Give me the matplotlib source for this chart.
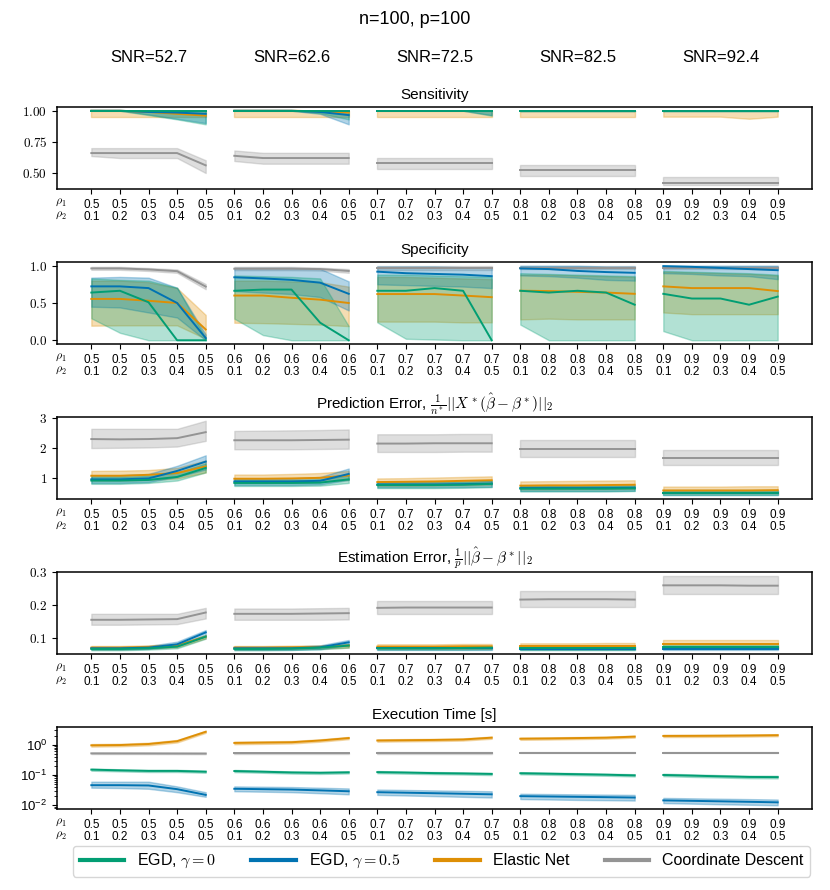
import numpy as np
import matplotlib
matplotlib.use("Agg")
import matplotlib.pyplot as plt
from matplotlib.lines import Line2D
from matplotlib.ticker import FuncFormatter

plt.rcParams["font.family"] = ["Liberation Sans", "DejaVu Sans"]
plt.rcParams["mathtext.fontset"] = "cm"

snr_labels = ["52.7", "62.6", "72.5", "82.5", "92.4"]
rho1 = ["0.5"] * 5 + ["0.6"] * 5 + ["0.7"] * 5 + ["0.8"] * 5 + ["0.9"] * 5
rho2 = ["0.1", "0.2", "0.3", "0.4", "0.5"] * 5

methods = ["EGD, $\\gamma=0$", "EGD, $\\gamma=0.5$", "Elastic Net", "Coordinate Descent"]
colors = ["#029e73", "#0173b2", "#de8f05", "#949494"]

# ---------------- Sensitivity ----------------
sens_egd0_mid = [1, 1, 1, 1, 1, 1, 1, 1, 1, 1, 1, 1, 1, 1, 1, 1, 1, 1, 1, 1, 1, 1, 1, 1, 1]
sens_egd0_lo = [1, 1, 0.965, 0.93, 0.89, 1, 1, 1, 0.98, 0.93, 1, 1, 1, 1, 0.96, 1, 1, 1, 1, 1, 1, 1, 1, 1, 1]
sens_egd0_hi = [1, 1, 1, 1, 1, 1, 1, 1, 1, 1, 1, 1, 1, 1, 1, 1, 1, 1, 1, 1, 1, 1, 1, 1, 1]
sens_egd5_mid = [1, 1, 0.99, 0.985, 0.975, 1, 1, 1, 0.99, 0.965, 1, 1, 1, 1, 1, 1, 1, 1, 1, 1, 1, 1, 1, 1, 1]
sens_egd5_lo = [1, 1, 0.97, 0.935, 0.9, 1, 1, 1, 0.975, 0.89, 1, 1, 1, 1, 0.965, 1, 1, 1, 1, 1, 1, 1, 1, 1, 1]
sens_egd5_hi = [1, 1, 1, 1, 1, 1, 1, 1, 1, 1, 1, 1, 1, 1, 1, 1, 1, 1, 1, 1, 1, 1, 1, 1, 1]
sens_en_mid = [1, 1, 0.99, 0.975, 0.96, 1, 1, 1, 0.995, 0.985, 1, 1, 1, 1, 1, 1, 1, 1, 1, 1, 1, 1, 1, 1, 1]
sens_en_lo = [0.952, 0.952, 0.952, 0.952, 0.952, 0.952, 0.952, 0.952, 0.952, 0.952, 0.952, 0.952, 0.952, 0.952,
              0.952, 0.952, 0.952, 0.952, 0.952, 0.952, 0.952, 0.952, 0.952, 0.935, 0.952]
sens_en_hi = [1, 1, 1, 1, 1, 1, 1, 1, 1, 1, 1, 1, 1, 1, 1, 1, 1, 1, 1, 1, 1, 1, 1, 1, 1]
sens_cd_mid = [0.658, 0.658, 0.658, 0.658, 0.559, 0.636, 0.618, 0.618, 0.618, 0.618, 0.578, 0.578, 0.578, 0.578,
               0.578, 0.519, 0.519, 0.519, 0.519, 0.519, 0.42, 0.42, 0.42, 0.42, 0.42]
sens_cd_lo = [0.634, 0.618, 0.618, 0.618, 0.497, 0.594, 0.572, 0.572, 0.572, 0.572, 0.532, 0.532, 0.532, 0.532,
              0.532, 0.473, 0.473, 0.473, 0.473, 0.473, 0.398, 0.398, 0.398, 0.398, 0.398]
sens_cd_hi = [0.698, 0.698, 0.698, 0.698, 0.6, 0.679, 0.66, 0.66, 0.66, 0.66, 0.62, 0.62, 0.62, 0.62,
              0.62, 0.561, 0.561, 0.561, 0.561, 0.561, 0.463, 0.463, 0.463, 0.463, 0.463]

# ---------------- Specificity ----------------
spec_egd0_mid = [0.64, 0.664, 0.51, 0.0, 0.0, 0.664, 0.68, 0.68, 0.236, 0.0, 0.664, 0.664, 0.7, 0.664, 0.0,
                 0.664, 0.64, 0.664, 0.64, 0.477, 0.623, 0.56, 0.56, 0.477, 0.586]
spec_egd0_lo = [0.295, 0.1, 0.0, 0.0, 0.0, 0.29, 0.07, 0.0, 0.0, 0.0, 0.24, 0.02, 0.01, 0.0, 0.0,
                0.21, 0.0, 0.0, 0.0, 0.0, 0.123, 0.0, 0.0, 0.0, 0.0]
spec_egd0_hi = [0.83, 0.81, 0.8, 0.705, 0.03, 0.87, 0.86, 0.85, 0.83, 0.19, 0.88, 0.88, 0.87, 0.86, 0.85,
                0.9, 0.89, 0.88, 0.87, 0.86, 0.93, 0.92, 0.91, 0.9, 0.88]
spec_egd5_mid = [0.723, 0.723, 0.7, 0.5, 0.03, 0.845, 0.83, 0.81, 0.773, 0.623, 0.92, 0.9, 0.89, 0.88, 0.86,
                 0.964, 0.955, 0.93, 0.915, 0.905, 0.995, 0.985, 0.97, 0.955, 0.94]
spec_egd5_lo = [0.45, 0.44, 0.373, 0.305, 0.0, 0.66, 0.64, 0.62, 0.58, 0.4, 0.75, 0.74, 0.73, 0.72, 0.7,
                0.87, 0.86, 0.84, 0.81, 0.8, 0.9, 0.89, 0.87, 0.86, 0.82]
spec_egd5_hi = [0.84, 0.85, 0.84, 0.705, 0.077, 0.97, 0.97, 0.97, 0.96, 0.79, 0.99, 0.99, 0.99, 0.98, 0.97,
                1.0, 1.0, 1.0, 0.99, 0.99, 1.0, 1.0, 1.0, 1.0, 1.0]
spec_en_mid = [0.555, 0.555, 0.53, 0.5, 0.145, 0.6, 0.6, 0.57, 0.545, 0.5, 0.62, 0.62, 0.62, 0.6, 0.578,
               0.665, 0.66, 0.65, 0.64, 0.623, 0.723, 0.7, 0.7, 0.7, 0.66]
spec_en_lo = [0.195, 0.2, 0.2, 0.2, 0.02, 0.235, 0.23, 0.22, 0.21, 0.19, 0.25, 0.25, 0.25, 0.24, 0.24,
              0.28, 0.29, 0.28, 0.28, 0.28, 0.373, 0.35, 0.35, 0.35, 0.35]
spec_en_hi = [0.8, 0.8, 0.78, 0.7, 0.34, 0.8, 0.8, 0.79, 0.78, 0.72, 0.85, 0.85, 0.84, 0.83, 0.82,
              0.88, 0.88, 0.87, 0.86, 0.85, 0.92, 0.91, 0.9, 0.89, 0.87]
spec_cd_mid = [0.964, 0.964, 0.95, 0.927, 0.72, 0.96, 0.96, 0.96, 0.955, 0.93, 0.965, 0.965, 0.965, 0.965, 0.965,
               0.968, 0.968, 0.968, 0.968, 0.968, 0.97, 0.97, 0.97, 0.97, 0.97]
spec_cd_lo = [0.945, 0.945, 0.93, 0.905, 0.685, 0.94, 0.94, 0.94, 0.935, 0.905, 0.94, 0.94, 0.94, 0.94, 0.94,
              0.95, 0.95, 0.95, 0.95, 0.95, 0.95, 0.95, 0.95, 0.95, 0.95]
spec_cd_hi = [0.985, 0.985, 0.97, 0.95, 0.755, 0.985, 0.985, 0.985, 0.975, 0.955, 0.99, 0.99, 0.99, 0.99, 0.99,
              0.99, 0.99, 0.99, 0.99, 0.99, 0.99, 0.99, 0.99, 0.99, 0.99]

# ---------------- Prediction error ----------------
pred_egd0_mid = [0.93, 0.93, 0.95, 1.05, 1.35, 0.85, 0.85, 0.85, 0.86, 0.97, 0.78, 0.78, 0.78, 0.79, 0.82,
                 0.66, 0.66, 0.66, 0.66, 0.67, 0.51, 0.51, 0.51, 0.51, 0.51]
pred_egd0_lo = [0.82, 0.82, 0.85, 0.93, 1.2, 0.75, 0.75, 0.75, 0.76, 0.85, 0.68, 0.68, 0.68, 0.69, 0.71,
                0.57, 0.57, 0.57, 0.57, 0.58, 0.44, 0.44, 0.44, 0.44, 0.44]
pred_egd0_hi = [1.05, 1.05, 1.08, 1.2, 1.5, 0.95, 0.95, 0.95, 0.97, 1.1, 0.87, 0.87, 0.87, 0.88, 0.92,
                0.75, 0.75, 0.75, 0.75, 0.76, 0.58, 0.58, 0.58, 0.58, 0.58]
pred_egd5_mid = [0.97, 0.97, 1.0, 1.25, 1.56, 0.9, 0.9, 0.9, 0.92, 1.15, 0.8, 0.8, 0.8, 0.81, 0.83,
                 0.68, 0.68, 0.68, 0.68, 0.69, 0.52, 0.52, 0.52, 0.52, 0.52]
pred_egd5_lo = [0.85, 0.85, 0.88, 1.05, 1.3, 0.78, 0.78, 0.78, 0.8, 0.95, 0.7, 0.7, 0.7, 0.71, 0.72,
                0.58, 0.58, 0.58, 0.58, 0.59, 0.44, 0.44, 0.44, 0.44, 0.44]
pred_egd5_hi = [1.1, 1.1, 1.15, 1.42, 1.77, 1.0, 1.0, 1.0, 1.05, 1.33, 0.9, 0.9, 0.9, 0.91, 0.93,
                0.77, 0.77, 0.77, 0.77, 0.78, 0.6, 0.6, 0.6, 0.6, 0.6]
pred_en_mid = [1.09, 1.09, 1.12, 1.18, 1.4, 0.99, 0.99, 1.0, 1.02, 1.1, 0.88, 0.89, 0.9, 0.92, 0.94,
               0.76, 0.77, 0.77, 0.78, 0.79, 0.6, 0.6, 0.6, 0.6, 0.61]
pred_en_lo = [0.93, 0.93, 0.95, 1.0, 1.2, 0.85, 0.85, 0.86, 0.88, 0.95, 0.75, 0.75, 0.76, 0.77, 0.79,
              0.63, 0.63, 0.64, 0.64, 0.65, 0.5, 0.5, 0.5, 0.5, 0.5]
pred_en_hi = [1.25, 1.26, 1.28, 1.35, 1.6, 1.13, 1.13, 1.15, 1.18, 1.25, 1.0, 1.01, 1.03, 1.05, 1.07,
              0.9, 0.91, 0.92, 0.93, 0.94, 0.73, 0.73, 0.73, 0.74, 0.74]
pred_cd_mid = [2.31, 2.3, 2.31, 2.34, 2.54, 2.27, 2.27, 2.27, 2.28, 2.29, 2.16, 2.16, 2.17, 2.17, 2.17,
               1.99, 1.99, 1.99, 1.99, 1.99, 1.67, 1.67, 1.67, 1.67, 1.67]
pred_cd_lo = [2.01, 2.02, 2.03, 2.06, 2.25, 1.97, 1.97, 1.97, 1.98, 1.99, 1.88, 1.88, 1.88, 1.89, 1.89,
              1.72, 1.72, 1.72, 1.72, 1.72, 1.45, 1.45, 1.45, 1.45, 1.45]
pred_cd_hi = [2.65, 2.65, 2.65, 2.65, 2.92, 2.58, 2.59, 2.6, 2.61, 2.63, 2.47, 2.47, 2.47, 2.48, 2.48,
              2.28, 2.28, 2.28, 2.28, 2.28, 1.93, 1.93, 1.93, 1.93, 1.93]

# ---------------- Estimation error ----------------
est_egd0_mid = [0.068, 0.068, 0.07, 0.075, 0.105, 0.068, 0.068, 0.069, 0.072, 0.078, 0.07, 0.07, 0.07, 0.071, 0.072,
                0.071, 0.071, 0.071, 0.071, 0.071, 0.075, 0.075, 0.075, 0.075, 0.075]
est_egd0_lo = [0.064, 0.064, 0.066, 0.07, 0.099, 0.064, 0.064, 0.065, 0.067, 0.072, 0.066, 0.066, 0.066, 0.066,
               0.067, 0.066, 0.066, 0.066, 0.066, 0.066, 0.07, 0.07, 0.07, 0.07, 0.07]
est_egd0_hi = [0.072, 0.072, 0.074, 0.08, 0.11, 0.072, 0.072, 0.073, 0.076, 0.083, 0.074, 0.074, 0.074, 0.075,
               0.076, 0.076, 0.076, 0.076, 0.076, 0.076, 0.08, 0.08, 0.08, 0.08, 0.08]
est_egd5_mid = [0.07, 0.07, 0.072, 0.082, 0.118, 0.07, 0.07, 0.07, 0.073, 0.088, 0.07, 0.07, 0.07, 0.07, 0.07,
                0.069, 0.069, 0.069, 0.069, 0.069, 0.069, 0.069, 0.069, 0.069, 0.069]
est_egd5_lo = [0.066, 0.066, 0.068, 0.076, 0.108, 0.065, 0.065, 0.065, 0.067, 0.08, 0.066, 0.066, 0.066, 0.066,
               0.066, 0.065, 0.065, 0.065, 0.065, 0.065, 0.065, 0.065, 0.065, 0.065, 0.065]
est_egd5_hi = [0.074, 0.074, 0.077, 0.09, 0.125, 0.075, 0.075, 0.075, 0.079, 0.095, 0.074, 0.074, 0.074, 0.074,
               0.074, 0.073, 0.073, 0.073, 0.073, 0.073, 0.073, 0.073, 0.073, 0.073, 0.073]
est_en_mid = [0.072, 0.072, 0.074, 0.078, 0.105, 0.072, 0.072, 0.073, 0.074, 0.078, 0.075, 0.075, 0.075, 0.076,
              0.076, 0.076, 0.076, 0.076, 0.076, 0.076, 0.082, 0.082, 0.082, 0.082, 0.082]
est_en_lo = [0.067, 0.067, 0.069, 0.073, 0.1, 0.067, 0.067, 0.068, 0.069, 0.072, 0.068, 0.068, 0.068, 0.068,
             0.068, 0.068, 0.068, 0.068, 0.068, 0.068, 0.07, 0.07, 0.07, 0.07, 0.07]
est_en_hi = [0.077, 0.077, 0.079, 0.083, 0.11, 0.077, 0.077, 0.078, 0.079, 0.083, 0.082, 0.082, 0.082, 0.083,
             0.083, 0.085, 0.085, 0.085, 0.086, 0.086, 0.095, 0.095, 0.095, 0.095, 0.095]
est_cd_mid = [0.156, 0.156, 0.157, 0.158, 0.178, 0.174, 0.174, 0.174, 0.175, 0.176, 0.192, 0.193, 0.193, 0.193,
              0.193, 0.217, 0.218, 0.218, 0.218, 0.217, 0.26, 0.26, 0.26, 0.259, 0.259]
est_cd_lo = [0.141, 0.141, 0.142, 0.143, 0.16, 0.156, 0.156, 0.156, 0.156, 0.157, 0.174, 0.174, 0.174, 0.174,
             0.174, 0.196, 0.196, 0.196, 0.196, 0.196, 0.233, 0.233, 0.233, 0.233, 0.233]
est_cd_hi = [0.174, 0.174, 0.174, 0.174, 0.192, 0.19, 0.19, 0.19, 0.191, 0.192, 0.213, 0.213, 0.213, 0.213,
             0.213, 0.242, 0.242, 0.242, 0.242, 0.242, 0.289, 0.289, 0.289, 0.289, 0.289]

# ---------------- Execution time ----------------
time_egd0_mid = [0.15, 0.142, 0.136, 0.136, 0.128, 0.135, 0.128, 0.121, 0.118, 0.122, 0.124, 0.12, 0.115, 0.112,
                 0.108, 0.114, 0.11, 0.106, 0.102, 0.097, 0.1, 0.095, 0.09, 0.086, 0.085]
time_egd0_lo = [0.138, 0.131, 0.125, 0.125, 0.118, 0.124, 0.118, 0.111, 0.108, 0.112, 0.114, 0.11, 0.106, 0.103,
                0.099, 0.105, 0.101, 0.097, 0.094, 0.089, 0.091, 0.086, 0.082, 0.078, 0.077]
time_egd0_hi = [0.163, 0.154, 0.148, 0.148, 0.139, 0.147, 0.139, 0.131, 0.128, 0.133, 0.135, 0.13, 0.125, 0.122,
                0.118, 0.124, 0.12, 0.115, 0.111, 0.106, 0.11, 0.105, 0.099, 0.095, 0.094]
time_egd5_mid = [0.046, 0.046, 0.045, 0.034, 0.022, 0.035, 0.034, 0.033, 0.031, 0.029, 0.027, 0.026, 0.025, 0.024,
                 0.023, 0.02, 0.0195, 0.019, 0.0185, 0.018, 0.0145, 0.014, 0.0135, 0.013, 0.0125]
time_egd5_lo = [0.038, 0.037, 0.035, 0.027, 0.019, 0.029, 0.028, 0.027, 0.025, 0.023, 0.022, 0.021, 0.02, 0.019,
                0.018, 0.016, 0.0155, 0.015, 0.0147, 0.0143, 0.0118, 0.0113, 0.0108, 0.0104, 0.01]
time_egd5_hi = [0.06, 0.06, 0.06, 0.042, 0.027, 0.042, 0.041, 0.04, 0.038, 0.036, 0.033, 0.032, 0.031, 0.03,
                0.029, 0.024, 0.0235, 0.023, 0.0225, 0.022, 0.0175, 0.017, 0.0165, 0.016, 0.0155]
time_en_mid = [0.95, 0.97, 1.05, 1.3, 2.66, 1.14, 1.17, 1.2, 1.37, 1.65, 1.37, 1.4, 1.43, 1.48, 1.7,
               1.57, 1.6, 1.65, 1.7, 1.84, 1.94, 1.95, 1.97, 2.0, 2.05]
time_en_lo = [0.86, 0.88, 0.95, 1.18, 2.45, 1.03, 1.06, 1.09, 1.25, 1.51, 1.25, 1.28, 1.31, 1.36, 1.56,
              1.44, 1.47, 1.52, 1.57, 1.7, 1.78, 1.79, 1.81, 1.84, 1.89]
time_en_hi = [1.05, 1.07, 1.16, 1.43, 2.88, 1.26, 1.29, 1.32, 1.5, 1.8, 1.5, 1.53, 1.56, 1.61, 1.85,
              1.71, 1.74, 1.79, 1.84, 1.99, 2.11, 2.12, 2.14, 2.17, 2.22]
time_cd_mid = [0.516, 0.515, 0.514, 0.512, 0.51, 0.52, 0.52, 0.52, 0.52, 0.52, 0.53, 0.53, 0.53, 0.53, 0.53,
               0.54, 0.54, 0.54, 0.54, 0.54, 0.545, 0.545, 0.545, 0.545, 0.545]
time_cd_lo = [0.49, 0.489, 0.488, 0.486, 0.484, 0.494, 0.494, 0.494, 0.494, 0.494, 0.504, 0.504, 0.504, 0.504,
              0.504, 0.513, 0.513, 0.513, 0.513, 0.513, 0.518, 0.518, 0.518, 0.518, 0.518]
time_cd_hi = [0.542, 0.541, 0.54, 0.538, 0.536, 0.546, 0.546, 0.546, 0.546, 0.546, 0.556, 0.556, 0.556, 0.556,
              0.556, 0.567, 0.567, 0.567, 0.567, 0.567, 0.572, 0.572, 0.572, 0.572, 0.572]

panels = [
    ("Sensitivity",
     [(sens_egd0_mid, sens_egd0_lo, sens_egd0_hi), (sens_egd5_mid, sens_egd5_lo, sens_egd5_hi),
      (sens_en_mid, sens_en_lo, sens_en_hi), (sens_cd_mid, sens_cd_lo, sens_cd_hi)]),
    ("Specificity",
     [(spec_egd0_mid, spec_egd0_lo, spec_egd0_hi), (spec_egd5_mid, spec_egd5_lo, spec_egd5_hi),
      (spec_en_mid, spec_en_lo, spec_en_hi), (spec_cd_mid, spec_cd_lo, spec_cd_hi)]),
    ("Prediction Error, $\\frac{1}{n^*}||X^*(\\hat{\\beta}-\\beta^*)||_2$",
     [(pred_egd0_mid, pred_egd0_lo, pred_egd0_hi), (pred_egd5_mid, pred_egd5_lo, pred_egd5_hi),
      (pred_en_mid, pred_en_lo, pred_en_hi), (pred_cd_mid, pred_cd_lo, pred_cd_hi)]),
    ("Estimation Error, $\\frac{1}{p}||\\hat{\\beta}-\\beta^*||_2$",
     [(est_egd0_mid, est_egd0_lo, est_egd0_hi), (est_egd5_mid, est_egd5_lo, est_egd5_hi),
      (est_en_mid, est_en_lo, est_en_hi), (est_cd_mid, est_cd_lo, est_cd_hi)]),
    ("Execution Time [s]",
     [(time_egd0_mid, time_egd0_lo, time_egd0_hi), (time_egd5_mid, time_egd5_lo, time_egd5_hi),
      (time_en_mid, time_en_lo, time_en_hi), (time_cd_mid, time_cd_lo, time_cd_hi)]),
]

yticks = [[0.5, 0.75, 1.0], [0.0, 0.5, 1.0], [1, 2, 3], [0.1, 0.2, 0.3], None]
yfmt = ["{:.2f}", "{:.1f}", "{:.0f}", "{:.1f}", None]

W, H = 830, 890
fig = plt.figure(figsize=(W / 100, H / 100), dpi=100)

x = np.arange(25)
left, right = 57 / W, 812 / W
axes = []
for i, (title, series) in enumerate(panels):
    top = 107 + 155 * i
    ax = fig.add_axes([left, 1 - (top + 82) / H, right - left, 82 / H])
    axes.append(ax)
    # draw in reverse so EGD ends up on top
    for k in [3, 2, 1, 0]:
        mid, lo, hi = [np.array(a, dtype=float) for a in series[k]]
        for g in range(5):
            sl = slice(5 * g, 5 * g + 5)
            ax.fill_between(x[sl], lo[sl], hi[sl], color=colors[k], alpha=0.3, linewidth=1)
            ax.plot(x[sl], mid[sl], color=colors[k], lw=1.4)
    ax.set_xlim(-1.2, 25.2)
    if i == 4:
        ax.set_yscale("log")
    else:
        ax.set_yticks(yticks[i])
        ax.yaxis.set_major_formatter(FuncFormatter(lambda v, p, f=yfmt[i]: "$" + f.format(v) + "$"))
    ax.tick_params(axis="y", labelsize=9.5)
    ax.set_xticks(x)
    ax.set_xticklabels([a + "\n" + b for a, b in zip(rho1, rho2)], fontsize=8.5, linespacing=1.05)
    for j, lab in enumerate(["$\\rho_1$", "$\\rho_2$"]):
        ax.annotate(lab, xy=(-1.05, 0), xycoords=("data", "axes fraction"),
                    xytext=(0, -9.6 - 8.8 * j), textcoords="offset points",
                    ha="center", va="center", fontsize=8.5)
    ax.set_title(title, fontsize=11, pad=6)
    for s in ax.spines.values():
        s.set_linewidth(1.1)

for g, snr in enumerate(snr_labels):
    axes[0].text(5 * g + 2, 1 + 49 / 82, "SNR=" + snr, transform=axes[0].get_xaxis_transform(),
                 ha="center", va="center", fontsize=12)

fig.text(0.5, 1 - 20 / H, "n=100, p=100", ha="center", va="center", fontsize=13)

handles = [Line2D([0], [0], color=c, lw=3) for c in colors]
fig.legend(handles, methods, loc="lower center", ncol=4, bbox_to_anchor=(0.532, 0.006),
           fontsize=11.5, handlelength=2.8, columnspacing=2.2, frameon=True)

fig.savefig("out.png", dpi=100)
